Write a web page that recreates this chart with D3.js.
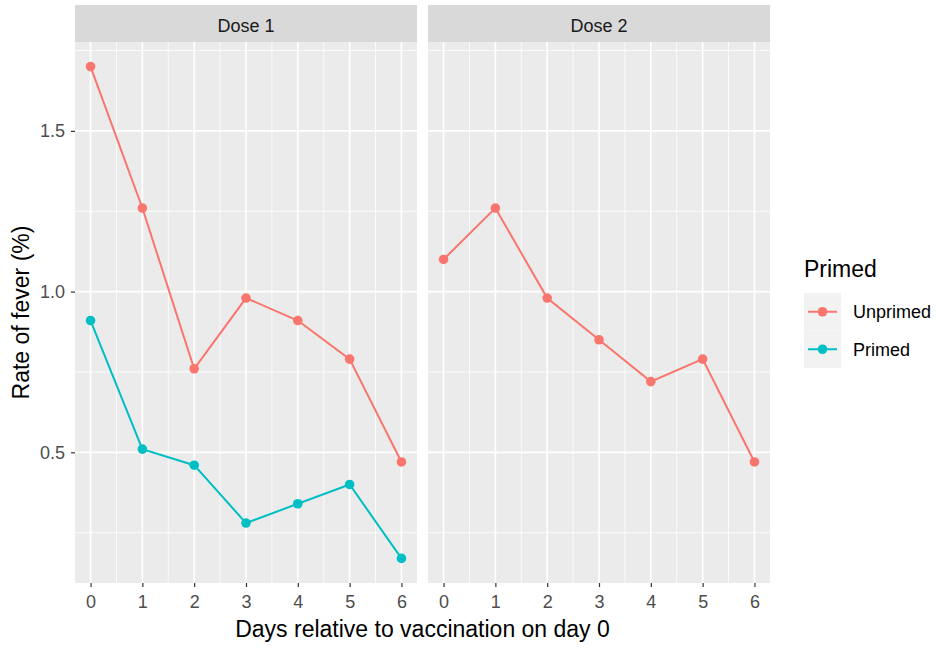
<!DOCTYPE html>
<html>
<head>
<meta charset="utf-8">
<script src="https://cdn.jsdelivr.net/npm/d3@7"></script>
<style>
  html, body { margin: 0; padding: 0; background: #fff; }
  svg { display: block; font-family: "Liberation Sans", Arial, Helvetica, sans-serif; }
</style>
</head>
<body>
<svg id="chart" width="937" height="648"></svg>
<script>
// Fever rates by day after vaccination, split by dose and priming status
const days = [0, 1, 2, 3, 4, 5, 6];
const doses = ["Dose 1", "Dose 2"];
const groups = ["Unprimed", "Primed"];
const groupColors = ["#F8766D", "#00BFC4"];

const dose1Unprimed = [1.70, 1.26, 0.76, 0.98, 0.91, 0.79, 0.47];
const dose1Primed   = [0.91, 0.51, 0.46, 0.28, 0.34, 0.40, 0.17];
const dose2Unprimed = [1.10, 1.26, 0.98, 0.85, 0.72, 0.79, 0.47];

const yTicks = [0.5, 1.0, 1.5];
const yMinor = [0.25, 0.75, 1.25, 1.75];

const panels = [
  { dose: doses[0], series: [{ group: groups[0], values: dose1Unprimed }, { group: groups[1], values: dose1Primed }] },
  { dose: doses[1], series: [{ group: groups[0], values: dose2Unprimed }] }
];

const FONT = "Liberation Sans, Arial, sans-serif";
const svg = d3.select("#chart");
const color = d3.scaleOrdinal().domain(groups).range(groupColors);

const panelTop = 42, panelBottom = 583;
const stripTop = 5;
const panelX = [75, 428];
const panelW = 342;

const allVals = dose1Unprimed.concat(dose1Primed, dose2Unprimed);
const yMin = d3.min(allVals), yMax = d3.max(allVals);
const yPad = (yMax - yMin) * 0.05;
const y = d3.scaleLinear().domain([yMin - yPad, yMax + yPad]).range([panelBottom, panelTop]);

panels.forEach((p, i) => {
  const x0 = panelX[i];
  const x = d3.scaleLinear().domain([-0.3, 6.3]).range([x0, x0 + panelW]);
  const g = svg.append("g");

  // strip
  g.append("rect").attr("x", x0).attr("y", stripTop).attr("width", panelW).attr("height", panelTop - stripTop)
    .attr("fill", "#D9D9D9");
  g.append("text").attr("x", x0 + panelW / 2).attr("y", 31.5)
    .attr("text-anchor", "middle").attr("fill", "#1A1A1A").style("font-size", "18px").text(p.dose);

  // panel background
  g.append("rect").attr("x", x0).attr("y", panelTop).attr("width", panelW).attr("height", panelBottom - panelTop)
    .attr("fill", "#EBEBEB");

  // minor grid
  const xMinor = d3.range(0.5, 6, 1);
  g.selectAll(".xminor").data(xMinor).join("line")
    .attr("x1", d => x(d)).attr("x2", d => x(d)).attr("y1", panelTop).attr("y2", panelBottom)
    .attr("stroke", "#fff").attr("stroke-width", 0.8);
  g.selectAll(".yminor").data(yMinor).join("line")
    .attr("x1", x0).attr("x2", x0 + panelW).attr("y1", d => y(d)).attr("y2", d => y(d))
    .attr("stroke", "#fff").attr("stroke-width", 0.8);
  // major grid
  g.selectAll(".xmajor").data(days).join("line")
    .attr("x1", d => x(d)).attr("x2", d => x(d)).attr("y1", panelTop).attr("y2", panelBottom)
    .attr("stroke", "#fff").attr("stroke-width", 1.6);
  g.selectAll(".ymajor").data(yTicks).join("line")
    .attr("x1", x0).attr("x2", x0 + panelW).attr("y1", d => y(d)).attr("y2", d => y(d))
    .attr("stroke", "#fff").attr("stroke-width", 1.6);

  // x axis
  const xAxis = d3.axisBottom(x).tickValues(days).tickSize(4).tickPadding(8).tickFormat(d3.format("d"));
  const xa = g.append("g").attr("transform", `translate(0,${panelBottom})`).call(xAxis);
  xa.select(".domain").remove();
  xa.selectAll(".tick line").attr("stroke", "#333").attr("stroke-width", 1.2);
  xa.selectAll(".tick text").attr("fill", "#4D4D4D").style("font-size", "18px").style("font-family", FONT);

  if (i === 0) {
    const yAxis = d3.axisLeft(y).tickValues(yTicks).tickSize(4).tickPadding(6).tickFormat(d3.format(".1f"));
    const ya = g.append("g").attr("transform", `translate(${x0},0)`).call(yAxis);
    ya.select(".domain").remove();
    ya.selectAll(".tick line").attr("stroke", "#333").attr("stroke-width", 1.2);
    ya.selectAll(".tick text").attr("fill", "#4D4D4D").style("font-size", "18px").style("font-family", FONT);
  }

  // series
  const line = d3.line().x((d, k) => x(days[k])).y(d => y(d));
  p.series.forEach(s => {
    g.append("path").datum(s.values).attr("d", line).attr("fill", "none")
      .attr("stroke", color(s.group)).attr("stroke-width", 2);
    g.selectAll(null).data(s.values).join("circle")
      .attr("cx", (d, k) => x(days[k])).attr("cy", d => y(d)).attr("r", 4.8)
      .attr("fill", color(s.group));
  });
});

// axis titles
svg.append("text").attr("x", (panelX[0] + panelX[1] + panelW) / 2).attr("y", 637)
  .attr("text-anchor", "middle").attr("fill", "#000").style("font-size", "23px")
  .text("Days relative to vaccination on day 0");
svg.append("text").attr("transform", `translate(29,${(panelTop + panelBottom) / 2}) rotate(-90)`)
  .attr("text-anchor", "middle").attr("fill", "#000").style("font-size", "23px")
  .text("Rate of fever (%)");

// legend
const lg = svg.append("g").attr("transform", "translate(804,293)");
lg.append("text").attr("x", 0).attr("y", -16).attr("fill", "#000").style("font-size", "23px").text("Primed");
groups.forEach((gname, k) => {
  const yy = 18.75 + k * 37.5;
  lg.append("rect").attr("x", 0).attr("y", yy - 18.75).attr("width", 37).attr("height", 37.5).attr("fill", "#F2F2F2");
  lg.append("line").attr("x1", 4).attr("x2", 33).attr("y1", yy).attr("y2", yy)
    .attr("stroke", color(gname)).attr("stroke-width", 2);
  lg.append("circle").attr("cx", 18.5).attr("cy", yy).attr("r", 4.8).attr("fill", color(gname));
  lg.append("text").attr("x", 49).attr("y", yy + 6.5).attr("fill", "#000").style("font-size", "18px").text(gname);
});
</script>
</body>
</html>
